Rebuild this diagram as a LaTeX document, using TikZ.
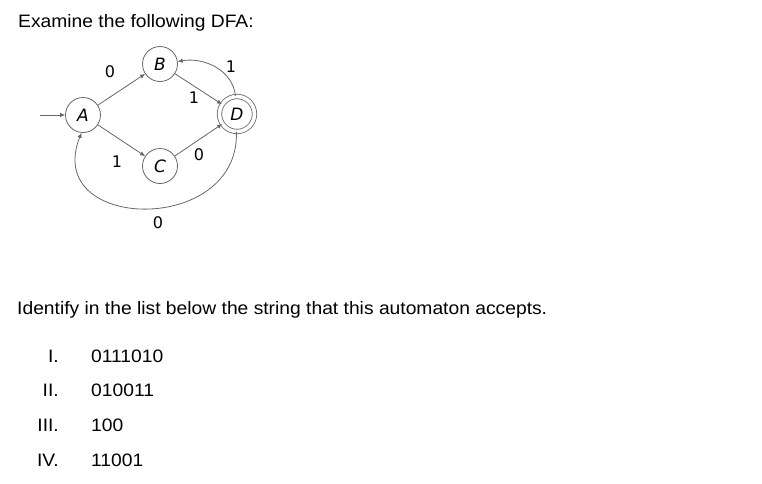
\documentclass[tikz,border=0pt]{standalone}
\usepackage{fontspec}
\setmainfont{Liberation Sans}
\newfontfamily\diagfont{DejaVu Sans}
\newfontfamily\fb[FakeStretch=1.07]{Liberation Sans}
\newfontfamily\fc[FakeStretch=1.03]{Liberation Sans}
\usetikzlibrary{arrows.meta}
\begin{document}
\begin{tikzpicture}[x=1pt,y=-1pt,
  state/.style={circle,draw=black!60,line width=0.8pt,minimum size=35pt,inner sep=0pt,font=\diagfont\fontsize{17}{17}\selectfont\itshape},
  accst/.style={state,double=white,double distance=3.6pt,minimum size=35pt},
  edge/.style={draw=black!60,line width=0.8pt,-{Latex[length=5pt,width=4.5pt]}},
  lbl/.style={font=\diagfont\fontsize{16}{16}\selectfont,inner sep=0pt},
  txt/.style={font=\fb\fontsize{18}{18}\selectfont,anchor=base west,inner sep=0pt}]
\useasboundingbox (0,0) rectangle (762,483);
\node[txt] (t1) at (18,27) {Examine the following DFA:};
\node[state] (A) at (83,115) {A};
\node[state] (B) at (160,64) {B};
\node[state] (C) at (160,166) {C};
\node[accst] (D) at (237,114) {D};
\coordinate (s) at (40,115);
\draw[edge] (s) -- (A);
\draw[edge] (A) -- (B);
\draw[edge] (B) -- (D);
\draw[edge] (A) -- (C);
\draw[edge] (C) -- (D);
\draw[edge] (D.95) to[out=95,in=10] (B.8);
\draw[edge] (D.268) .. controls (240,236) and (42,232) .. (A.265);
\node[lbl] (l1) at (110,72) {0};
\node[lbl] (l2) at (194,98) {1};
\node[lbl] (l3) at (231,67) {1};
\node[lbl] (l4) at (117,162) {1};
\node[lbl] (l5) at (199,155) {0};
\node[lbl] (l6) at (158,223) {0};
\node[txt] (t2) at (17,314) {Identify in the list below the string that this automaton accepts.};
\begin{scope}[every node/.append style={font=\fc\fontsize{18}{18}\selectfont}]
\node[txt,anchor=base east] (r1) at (59,362) {I.};
\node[txt] (v1) at (91,362) {0111010};
\node[txt,anchor=base east] (r2) at (59,396) {II.};
\node[txt] (v2) at (91,396) {010011};
\node[txt,anchor=base east] (r3) at (59,431) {III.};
\node[txt] (v3) at (91,431) {100};
\node[txt,anchor=base east] (r4) at (59,466) {IV.};
\node[txt] (v4) at (91,466) {11001};
\end{scope}
\end{tikzpicture}
\end{document}
